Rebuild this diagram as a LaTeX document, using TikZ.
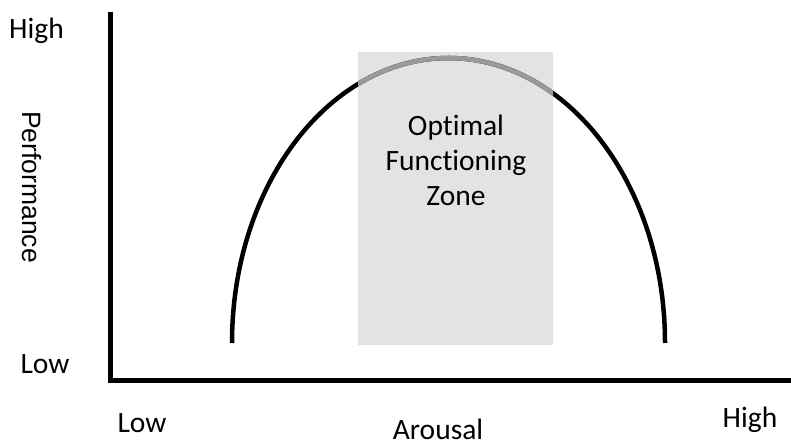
\documentclass[tikz,border=0pt]{standalone}
\usepackage{fontspec}
\setmainfont{Carlito}[Ligatures=NoCommon]
\newfontfamily\axisfont{Liberation Sans}
\usetikzlibrary{positioning, calc}
\definecolor{zoneGray}{HTML}{E3E3E3}
\definecolor{peakGray}{HTML}{9A9A9A}

\begin{document}
\begin{tikzpicture}[
  x=1pt, y=1pt,
  font=\fontsize{29.5}{35}\selectfont,
  axisline/.style={line width=5pt, draw=black},
  curveline/.style={line width=4.5pt},
  axislabel/.style={inner sep=0pt, anchor=base},
  zonetext/.style={align=center, inner sep=0pt}
]
\useasboundingbox (0,0) rectangle (791,447);

% optimal zone
\fill[zoneGray] (358,102) rectangle (553,395);

% inverted-U curve
\draw[curveline, draw=black] (232,104) arc[start angle=180, end angle=0, x radius=216.5, y radius=285];
\begin{scope}
  \clip (358,0) rectangle (553,447);
  \draw[curveline, draw=peakGray] (232,104) arc[start angle=180, end angle=0, x radius=216.5, y radius=285];
\end{scope}

% axes
\coordinate (ytop) at (110.5,435);
\coordinate (origin) at (110.5,67);
\coordinate (xend) at (791,67);
\draw[axisline] (ytop) -- (origin) -- (xend);

% labels
\node[axislabel] (perfhigh) at (36.5,408) {High};
\node[axislabel] (perflow) at (45,74) {Low};
\node[axislabel, rotate=-90, font=\axisfont\fontsize{26.5}{30}\selectfont] (perf) at (22,260) {Performance};
\node[axislabel] (arlow) at (142,15) {Low};
\node[axislabel] (arousal) at (438,8) {Arousal};
\node[axislabel] (arhigh) at (750,20) {High};
\node[zonetext] (zone) at (456,287) {Optimal\\Functioning\\Zone};
\end{tikzpicture}
\end{document}
